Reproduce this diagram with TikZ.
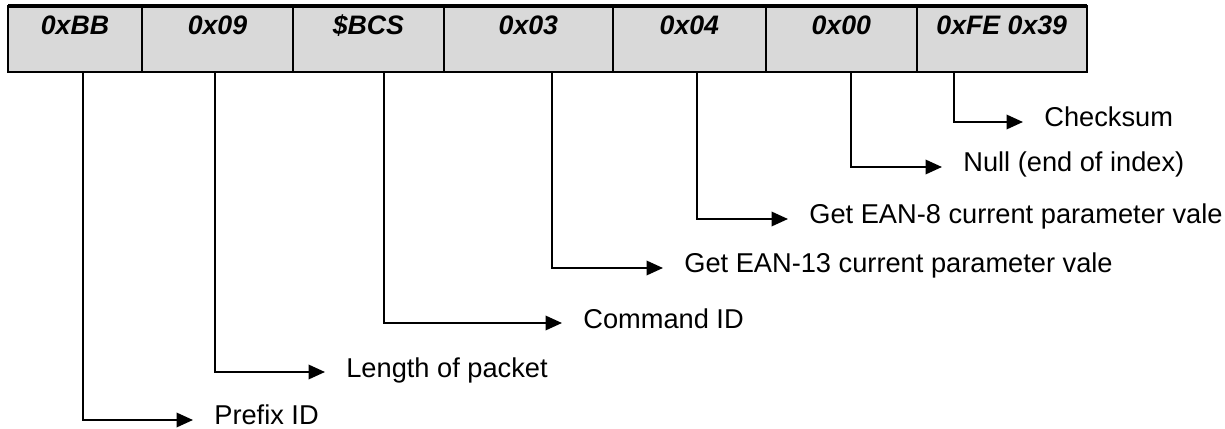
\documentclass[tikz,border=0pt]{standalone}
\usepackage{fontspec}
\setmainfont{Liberation Sans}
\usetikzlibrary{arrows.meta,positioning,calc}

\begin{document}
\begin{tikzpicture}[
  x=0.02cm, y=-0.02cm,
  font=\fontsize{15.5}{18}\selectfont,
  field/.style={draw, line width=0.85pt, fill=black!15, minimum width=#1,
                inner xsep=0pt, inner ysep=0pt, outer sep=0pt,
                text height=0.58cm, text depth=0.74cm,
                font=\fontsize{15.2}{18}\selectfont\bfseries\itshape},
  desc/.style={anchor=west, inner xsep=0.42cm, inner ysep=0pt,
               text height=0.35cm, text depth=0.15cm},
  arr/.style={-{Triangle[length=0.33cm,width=0.29cm]}, line width=1.1pt}
]
\useasboundingbox (0,0) rectangle (1225,429);

\node[field=2.68cm, anchor=north west] (hdr) at (8,6) {0xBB};
\node[field=3.02cm, right=0pt of hdr]  (len)  {0x09};
\node[field=3.02cm, right=0pt of len]  (cmd)  {\$BCS};
\node[field=3.38cm, right=0pt of cmd]  (eanA) {0x03};
\node[field=3.06cm, right=0pt of eanA] (eanB) {0x04};
\node[field=3.02cm, right=0pt of eanB] (nul)  {0x00};
\node[field=3.40cm, right=0pt of nul]  (crc)  {0xFE 0x39};

\draw[line width=1.1pt] (hdr.north west) rectangle (crc.south east);
\draw[line width=2pt]   (hdr.north west) -- (crc.north east);

\node[desc] (hdrtxt)  at (193,420)  {Prefix ID};
\node[desc] (lentxt)  at (325,372)  {Length of packet};
\node[desc] (cmdtxt)  at (562,323)  {Command ID};
\node[desc] (eanAtxt) at (663,268)  {Get EAN-13 current parameter vale};
\node[desc] (eanBtxt) at (788,219)  {Get EAN-8 current parameter vale};
\node[desc] (nultxt)  at (942,167)  {Null (end of index)};
\node[desc] (crctxt)  at (1023,122) {Checksum};

\draw[arr] ($(hdr.south)+(8,0)$)    |- (hdrtxt);
\draw[arr] ($(len.south)+(-2,0)$)   |- (lentxt);
\draw[arr] ($(cmd.south)+(15.5,0)$) |- (cmdtxt);
\draw[arr] ($(eanA.south)+(23.5,0)$) |- (eanAtxt);
\draw[arr] ($(eanB.south)+(7.5,0)$) |- (eanBtxt);
\draw[arr] ($(nul.south)+(9.5,0)$)  |- (nultxt);
\draw[arr] ($(crc.south)+(-48,0)$)  |- (crctxt);

\end{tikzpicture}
\end{document}
